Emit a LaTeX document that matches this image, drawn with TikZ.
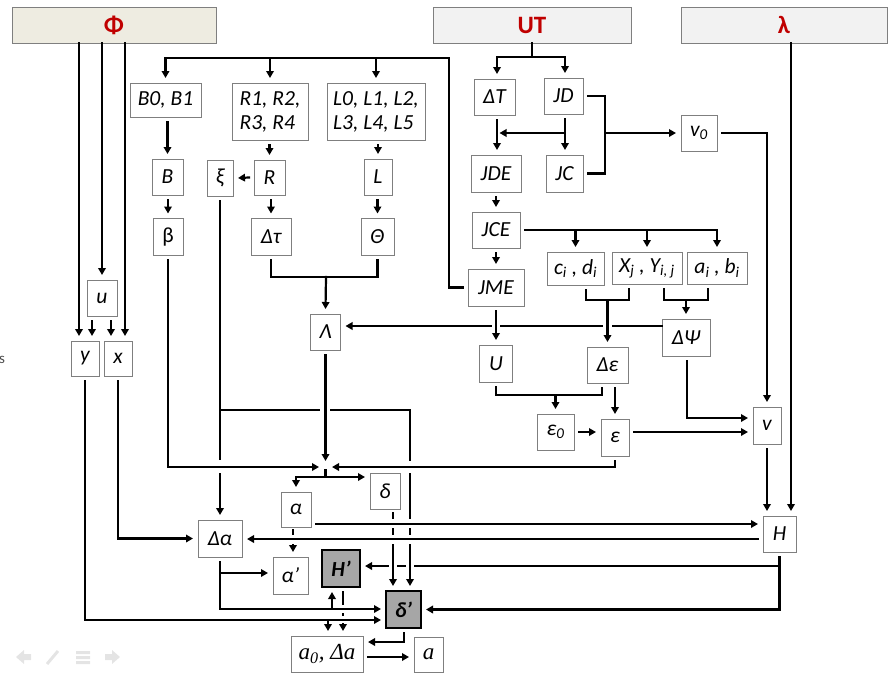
\documentclass[tikz,border=0pt]{standalone}
\usepackage{fontspec}
\setmainfont{Carlito}
\newfontfamily\serifit{Liberation Serif}
\usetikzlibrary{arrows.meta}
\definecolor{boxgray}{HTML}{7F7F7F}
\definecolor{titred}{HTML}{C00000}
\definecolor{phifill}{HTML}{EEECE1}
\definecolor{barfill}{HTML}{F2F2F2}
\definecolor{darkfill}{HTML}{A6A6A6}
\definecolor{navgray}{HTML}{E4E4E4}
\begin{document}
\begin{tikzpicture}[x=1pt,y=-1pt,
  bx/.style={draw=boxgray, line width=1pt, fill=white, inner sep=0pt, outer sep=5pt,
    font=\fontsize{21.5}{24}\selectfont\itshape, align=center},
  bar/.style={draw=boxgray, line width=1pt, inner sep=0pt, outer sep=0pt, minimum height=36pt,
    text=titred, font=\fontsize{25}{25}\selectfont\bfseries},
  dk/.style={bx, fill=darkfill, draw=black, line width=1.8pt, font=\fontsize{21.5}{24}\selectfont\bfseries\itshape},
  sr/.style={bx, font=\fontsize{23}{26}\selectfont\serifit\itshape},
  conn/.style={line width=2.2pt, black, line cap=rect},
  arr/.style={conn, -{Triangle[length=7pt,width=7.5pt]}}
]
\useasboundingbox (0,0) rectangle (893,673);
% ---------- top bars
\node[bar, fill=phifill, minimum width=204pt] (phi) at (114,25) {Φ};
\node[bar, fill=barfill, minimum width=198pt] (ut) at (532,25) {UT};
\node[bar, fill=barfill, minimum width=206pt] (lam) at (784,25) {λ};
% ---------- boxes
\node[bx, minimum width=71pt, minimum height=34pt] (b01) at (165.5,100) {B0, B1};
\node[bx, minimum width=76pt, minimum height=57pt, align=left] (r14) at (270,111.5) {R1, R2,\\R3, R4};
\node[bx, minimum width=98pt, minimum height=57pt, align=left] (l05) at (376,111.5) {L0, L1, L2,\\L3, L4, L5};
\node[bx, minimum width=31pt, minimum height=36pt] (nB) at (167.5,177) {B};
\node[bx, minimum width=26pt, minimum height=36pt] (xi) at (220,178) {ξ};
\node[bx, minimum width=31pt, minimum height=35pt] (nR) at (269.5,177.5) {R};
\node[bx, minimum width=28pt, minimum height=36pt] (nL) at (378,177) {L};
\node[bx, minimum width=30pt, minimum height=37pt] (beta) at (168,237) {\upshape β};
\node[bx, minimum width=40pt, minimum height=37pt] (dtau) at (271,237) {Δτ};
\node[bx, minimum width=33pt, minimum height=37pt] (theta) at (377.5,237) {Θ};
\node[bx, minimum width=30pt, minimum height=36pt] (Lam) at (325.5,332) {Λ};
\node[bx, minimum width=30pt, minimum height=36pt] (nu) at (102,298) {u};
\node[bx, minimum width=28pt, minimum height=35pt] (ny) at (85,358.5) {y};
\node[bx, minimum width=28pt, minimum height=35pt] (nx) at (118,358.5) {x};
\node[bx, minimum width=41pt, minimum height=36pt] (dT) at (494.5,97) {ΔT};
\node[bx, minimum width=39pt, minimum height=36pt] (JD) at (563.5,96) {JD};
\node[bx, minimum width=50pt, minimum height=37pt] (JDE) at (496,173.5) {JDE};
\node[bx, minimum width=37pt, minimum height=37pt] (JC) at (564.5,173.5) {JC};
\node[bx, minimum width=48pt, minimum height=36pt] (JCE) at (496,230) {JCE};
\node[bx, minimum width=56pt, minimum height=37pt] (JME) at (496,287.5) {JME};
\node[bx, minimum width=36pt, minimum height=36pt] (v0) at (699,133) {v\textsubscript{0}};
\node[bx, minimum width=57pt, minimum height=33pt] (cd) at (575.5,268.5) {c\textsubscript{i} , d\textsubscript{i}};
\node[bx, minimum width=70pt, minimum height=32pt] (XY) at (647,268) {X\textsubscript{j} , Y\textsubscript{i, j}};
\node[bx, minimum width=60pt, minimum height=32pt] (ab) at (717,268) {a\textsubscript{i} , b\textsubscript{i}};
\node[bx, minimum width=48pt, minimum height=37pt] (dPsi) at (686,337.5) {ΔΨ};
\node[bx, minimum width=33pt, minimum height=37pt] (nU) at (496,363.5) {U};
\node[bx, minimum width=41pt, minimum height=36pt] (deps) at (607.5,365) {Δε};
\node[bx, minimum width=37pt, minimum height=36pt] (eps0) at (555.5,432) {ε\textsubscript{0}};
\node[bx, minimum width=28pt, minimum height=37pt] (eps) at (615,437.5) {ε};
\node[bx, minimum width=28pt, minimum height=37pt] (vv) at (767,425.5) {v};
\node[bx, minimum width=30pt, minimum height=35pt] (alpha) at (296,509.5) {α};
\node[bx, minimum width=30pt, minimum height=36pt] (delta) at (385,491) {δ};
\node[bx, minimum width=44pt, minimum height=37pt] (dalpha) at (220,538.5) {Δα};
\node[bx, minimum width=35pt, minimum height=37pt] (alphap) at (290.5,575.5) {α’};
\node[dk, minimum width=38pt, minimum height=37pt] (Hp) at (341,568.5) {H’};
\node[dk, minimum width=35pt, minimum height=37pt] (dp) at (403.5,609.5) {δ’};
\node[bx, minimum width=33pt, minimum height=36pt] (nH) at (779.5,534) {H};
\node[sr, minimum width=72pt, minimum height=36pt] (a0) at (327,654) {a\textsubscript{0}, Δa};
\node[sr, minimum width=29pt, minimum height=35pt] (na) at (428.5,654.5) {a};
\node[anchor=west, inner sep=0pt, text=black!70, font=\fontsize{15}{15}\selectfont] (stray) at (-1,360) {s};
% ---------- helper coordinates
\path (79,0) coordinate (c79) (125,0) coordinate (c125) (85,620) coordinate (yd)
      (449,58) coordinate (bus) (326,277) coordinate (lj)
      (220,459) coordinate (xiA) (220,474) coordinate (xiB)
      (220,410) coordinate (xh0) (319,410) coordinate (xh1) (331,410) coordinate (xh2) (410,410) coordinate (xh3)
      (410,460) coordinate (xv1) (410,474) coordinate (xv2) (410,518) coordinate (xv3) (410,529) coordinate (xv4)
      (410,534) coordinate (xv5) (410,545) coordinate (xv6)
      (393,513) coordinate (dl0) (393,518) coordinate (dl1) (393,529) coordinate (dl2) (393,534) coordinate (dl3)
      (393,545) coordinate (dl4)
      (319,467) coordinate (Jw) (325.5,461) coordinate (Jn) (332,467) coordinate (Je)
      (325.5,470) coordinate (Js) (325.5,477) coordinate (Jb)
      (293,530) coordinate (aa0) (293,534) coordinate (aa1) (293,545) coordinate (aa2)
      (317,524) coordinate (ah) (758,539) coordinate (hd)
      (779.5,566) coordinate (hh) (415,566) coordinate (hg1) (405,566) coordinate (hg2) (398,566) coordinate (hg3)
      (388,566) coordinate (hg4)
      (220,609) coordinate (dd) (220,573) coordinate (dd2) (332,609) coordinate (hpu) (328,620) coordinate (a0d)
      (343,604) coordinate (hq1) (343,614) coordinate (hq2) (343,615) coordinate (hq3) (343,624) coordinate (hq4)
      (404,642) coordinate (da) (0,657) coordinate (aa)
      (532,57) coordinate (utb) (497,0) coordinate (c497) (565,0) coordinate (c565)
      (565,133) coordinate (jdb) (499.5,133) coordinate (jdbe) (605,133) coordinate (brm)
      (586,300) coordinate (b1l) (629,300) coordinate (b1r) (607.5,300) coordinate (b1m)
      (664,300) coordinate (b2l) (708,300) coordinate (b2r) (686,300) coordinate (b2m)
      (662,326) coordinate (ps0) (613,326) coordinate (ps1) (602,326) coordinate (ps2) (501,326) coordinate (ps3)
      (491,326) coordinate (ps4)
      (555.5,395) coordinate (ue) (602,0) coordinate (c602) (615,0) coordinate (c615)
      (0,432) coordinate (r432) (687,418) coordinate (pv) (791,0) coordinate (c791);
% ---------- Phi
\draw[arr] (phi.south -| c79) -- (ny.north -| c79);
\draw[arr] (phi.south -| nu.north) -- (nu.north);
\draw[arr] (phi.south -| c125) -- (nx.north -| c125);
\draw[arr] ([xshift=-10pt]nu.south) -- ([xshift=7pt]ny.north);
\draw[arr] ([xshift=9pt]nu.south) -- ([xshift=-7pt]nx.north);
\draw[arr] (ny.south) -- (yd) -- (dp.west |- yd);
\draw[arr] (nx.south) |- (dalpha.west);
% ---------- top bus from JME
\draw[conn] (JME.west) -| (bus) -- (b01.north |- bus);
\draw[arr] (b01.north |- bus) -- (b01.north);
\draw[arr] (r14.north |- bus) -- (r14.north);
\draw[arr] (l05.north |- bus) -- (l05.north);
\draw[arr] (nB.north |- b01.south) -- (nB.north);
\draw[arr] (beta.north |- nB.south) -- (beta.north);
\draw[arr] (nR.north |- r14.south) -- (nR.north);
\draw[arr] (nR.west) -- (xi.east);
\draw[arr] (nL.north |- l05.south) -- (nL.north);
\draw[arr] (dtau.north |- nR.south) -- (dtau.north);
\draw[arr] (theta.north |- nL.south) -- (theta.north);
\draw[conn] (dtau.south) |- (lj) -| (theta.south);
\draw[arr] (lj) -- (Lam.north);
% ---------- xi
\draw[conn] (xi.south) -- (xiA);
\draw[arr] (xiB) -- (dalpha.north);
\draw[conn] (xh0) -- (xh1);
\draw[conn] (xh2) -- (xh3) -- (xv1);
\draw[conn] (xv2) -- (xv3);
\draw[conn] (xv4) -- (xv5);
\draw[arr] (xv6) -- (dp.north -| xv6);
% ---------- delta
\draw[conn] (dl0) -- (dl1);
\draw[conn] (dl2) -- (dl3);
\draw[arr] (dl4) -- (dp.north -| dl4);
% ---------- junction
\draw[arr] (beta.south) |- (Jw);
\draw[arr] (Lam.south) -- (Jn);
\draw[arr] (eps.south) |- (Je);
\draw[conn] (Js) -- (Jb);
\draw[arr] (Jb) -| (alpha.north);
\draw[arr] (Jb) -- (delta.west |- Jb);
% ---------- alpha, H
\draw[conn] (aa0) -- (aa1);
\draw[arr] (aa2) -- (alphap.north -| aa2);
\draw[arr] (alpha.east |- ah) -- (nH.west |- ah);
\draw[arr] (hd) -- (dalpha.east |- hd);
\draw[arr] (nH.south) |- (dp.east);
\draw[conn] (hh) -- (hg1);
\draw[conn] (hg2) -- (hg3);
\draw[arr] (hg4) -- (Hp.east |- hh);
% ---------- Delta alpha
\draw[arr] (dalpha.south) |- (dp.west |- dd);
\draw[arr] (dd2) -- (alphap.west |- dd2);
\draw[arr] (hpu) -- (Hp.south -| hpu);
\draw[arr] (a0d) -- (a0.north -| a0d);
\draw[conn] (Hp.south -| hq1) -- (hq1);
\draw[conn] (hq2) -- (hq3);
\draw[arr] (hq4) -- (a0.north -| hq4);
\draw[arr] (dp.south -| da) |- (a0.east |- da);
\draw[arr] (a0.east |- aa) -- (na.west |- aa);
% ---------- UT
\draw[conn] (ut.south) -- (utb);
\draw[arr] (utb) -| (dT.north -| c497);
\draw[arr] (utb) -| (JD.north -| c565);
\draw[arr] (dT.south -| c497) -- (JDE.north -| c497);
\draw[arr] (JD.south -| c565) -- (JC.north -| c565);
\draw[arr] (jdb) -- (jdbe);
\draw[conn] (JD.east) -| (brm) |- (JC.east);
\draw[arr] (brm) -- (v0.west);
\draw[arr] (v0.east) -| (vv.north);
\draw[arr] (JDE.south) -- (JCE.north);
\draw[arr] (JCE.south) -- (JME.north);
\draw[arr] (JCE.east) -| (ab.north);
\draw[arr] (cd.north |- JCE.east) -- (cd.north);
\draw[arr] (XY.north |- JCE.east) -- (XY.north);
\draw[conn] (cd.south -| b1l) -- (b1l) -- (b1r) -- (XY.south -| b1r);
\draw[arr] (b1m) -- (deps.north);
\draw[conn] (XY.south -| b2l) -- (b2l) -- (b2r) -- (ab.south -| b2r);
\draw[arr] (b2m) -- (dPsi.north);
\draw[conn] (ps0) -- (ps1);
\draw[conn] (ps2) -- (ps3);
\draw[arr] (ps4) -- (Lam.east |- ps4);
\draw[arr] (JME.south) -- (nU.north);
\draw[conn] (nU.south) |- (ue) -| (deps.south -| c602);
\draw[arr] (ue) -- (eps0.north);
\draw[arr] (deps.south -| c615) -- (eps.north);
\draw[arr] (eps0.east) -- (eps.west |- eps0.east);
\draw[arr] (eps.east |- r432) -- (vv.west |- r432);
\draw[arr] (dPsi.south -| pv) |- (vv.west |- pv);
\draw[arr] (vv.south) -- (nH.north -| vv.south);
\draw[arr] (lam.south -| c791) -- (nH.north -| c791);
% ---------- faint slide navigation icons
\fill[navgray] (16,657) -- (24,650) -- (24,654) -- (31,654) -- (31,660) -- (24,660) -- (24,664) -- cycle;
\draw[navgray, line width=3pt] (47,664) -- (58,651);
\fill[navgray] (76,651) rectangle (90,654) (76,656) rectangle (90,659) (76,661) rectangle (90,664);
\fill[navgray] (120,657) -- (112,650) -- (112,654) -- (105,654) -- (105,660) -- (112,660) -- (112,664) -- cycle;
\end{tikzpicture}
\end{document}
